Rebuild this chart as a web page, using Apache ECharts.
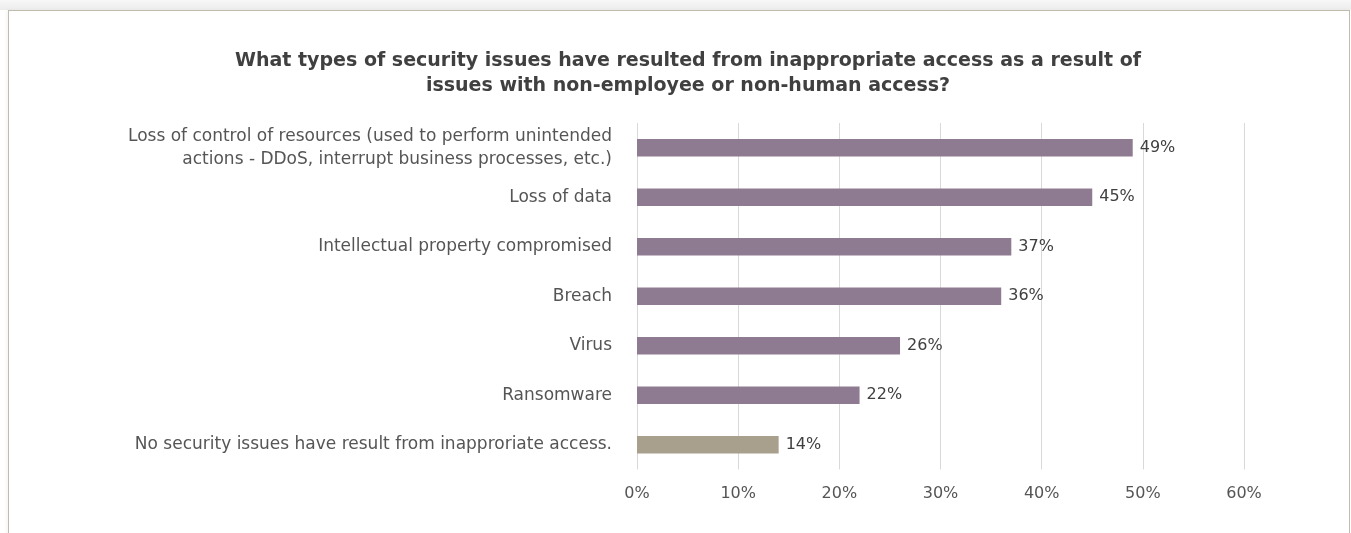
<!DOCTYPE html>
<html>
<head>
<meta charset="utf-8">
<script src="https://cdn.jsdelivr.net/npm/echarts@6/dist/echarts.min.js"></script>
<style>
  html, body { margin: 0; padding: 0; width: 1351px; height: 533px; overflow: hidden; background: #ffffff; }
  #topband { position: absolute; left: 0; top: 0; width: 1351px; height: 10px; background: linear-gradient(#f7f7f7, #ececec); }
  #frame { position: absolute; left: 8px; top: 10px; width: 1340px; height: 530px; border: 1px solid #c2bcae; background: #fff; box-shadow: -2px 0 3px rgba(0,0,0,0.04); }
  #chart { position: absolute; left: 0; top: 0; width: 1351px; height: 533px; }
</style>
</head>
<body>
<div id="topband"></div>
<div id="frame"></div>
<div id="chart"></div>
<script>
const categories = [
  "Loss of control of resources (used to perform unintended\nactions - DDoS, interrupt business processes, etc.)",
  "Loss of data",
  "Intellectual property compromised",
  "Breach",
  "Virus",
  "Ransomware",
  "No security issues have result from inapproriate access."
];
const values = [49, 45, 37, 36, 26, 22, 14];
const barColors = ["#8f7b91", "#8f7b91", "#8f7b91", "#8f7b91", "#8f7b91", "#8f7b91", "#a89f8c"];
const xTicks = [0, 10, 20, 30, 40, 50, 60];
const titleText = "What types of security issues have resulted from inappropriate access as a result of\nissues with non-employee or non-human access?";

const FONT = 'DejaVu Sans';
const chart = echarts.init(document.getElementById('chart'), null, { renderer: 'canvas' });
chart.setOption({
  backgroundColor: 'transparent',
  animation: false,
  title: {
    text: titleText,
    left: 683,
    textAlign: 'center',
    top: 44,
    textStyle: { fontFamily: FONT, fontWeight: 'bold', fontSize: 19, color: '#404040', lineHeight: 25 }
  },
  grid: { left: 637, top: 123, width: 607, height: 346.5, containLabel: false },
  xAxis: {
    type: 'value',
    min: xTicks[0],
    max: xTicks[xTicks.length - 1],
    interval: 10,
    axisLine: { show: false },
    axisTick: { show: false },
    splitLine: { show: true, lineStyle: { color: '#d9d9d9', width: 1 } },
    axisLabel: { formatter: v => v + '%', color: '#555555', fontFamily: FONT, fontSize: 16, margin: 16 }
  },
  yAxis: {
    type: 'category',
    inverse: true,
    data: categories,
    axisLine: { show: false },
    axisTick: { show: false },
    axisLabel: { color: '#555555', fontFamily: FONT, fontSize: 17, margin: 25, align: 'right', lineHeight: 23 }
  },
  series: [{
    type: 'bar',
    data: values.map((v, i) => ({ value: v, itemStyle: { color: barColors[i] } })),
    barWidth: 17.5,
    label: { show: true, position: 'right', distance: 7, formatter: p => p.value + '%', color: '#404040', fontFamily: FONT, fontSize: 16 }
  }]
});
</script>
</body>
</html>
